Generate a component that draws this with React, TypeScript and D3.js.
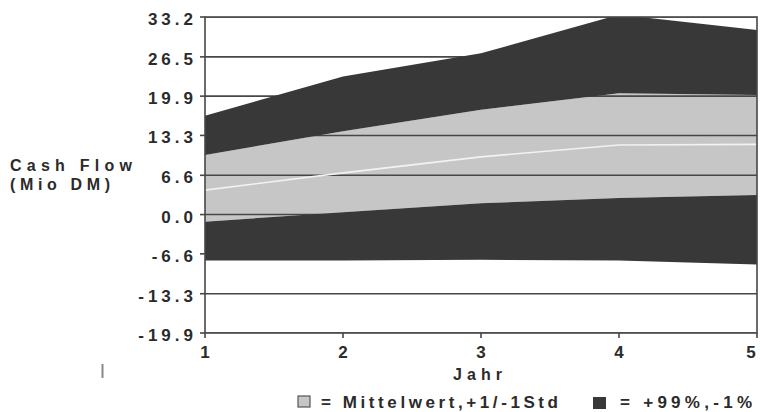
import React from "react";
import * as d3 from "d3";

const years = [1, 2, 3, 4, 5];
const p99 = [16.6, 23.2, 27.1, 33.6, 31.0];
const plus1Std = [10.0, 14.0, 17.6, 20.4, 20.1];
const mean = [4.1, 7.0, 9.7, 11.7, 11.8];
const minus1Std = [-1.2, 0.4, 1.9, 2.8, 3.3];
const p1 = [-7.7, -7.7, -7.6, -7.7, -8.4];
const yTicks = [33.2, 26.5, 19.9, 13.3, 6.6, 0.0, -6.6, -13.3, -19.9];
const yTickLabels = ["33.2", "26.5", "19.9", "13.3", "6.6", "0.0", "-6.6", "-13.3", "-19.9"];
const xTickLabels = ["1", "2", "3", "4", "5"];
const legendLabels = ["= Mittelwert,+1/-1Std", "= +99%,-1%"];

const W = 760;
const H = 412;
const L = 205, R = 757, T = 17, B = 333;
const DARK = "#383838";
const LIGHT = "#c6c6c6";
const GRID = "#474747";
const TXT = "#2b2b2b";
const FONT = "'Liberation Sans', Arial, sans-serif";

export default function App() {
  const x = d3.scaleLinear().domain([1, 5]).range([L, R]);
  const y = d3.scaleLinear().domain([-19.9, 33.2]).range([B, T]);
  const idx = years.map((_, i) => i);

  const band = (lo: number[], hi: number[]) =>
    d3
      .area<number>()
      .x((i) => x(years[i]))
      .y0((i) => y(lo[i]))
      .y1((i) => y(hi[i]))(idx) || "";

  const meanLine =
    d3
      .line<number>()
      .x((i) => x(years[i]))
      .y((i) => y(mean[i]))(idx) || "";

  const ls = 4;
  const tickFont = { fontFamily: FONT, fontWeight: 700, fontSize: 17, letterSpacing: ls, fill: TXT } as const;
  const plainFont = { fontFamily: FONT, fontWeight: 700, fontSize: 16, fill: TXT } as const;
  const legendFont = { fontFamily: FONT, fontWeight: 700, fontSize: 17, fill: TXT } as const;

  return (
    <svg
      width={W}
      height={H}
      style={{ position: "absolute", left: 0, top: 0, background: "#fff" }}
    >
      <defs>
        <clipPath id="plot">
          <rect x={L} y={T} width={R - L} height={B - T} />
        </clipPath>
      </defs>
      <rect x={0} y={0} width={W} height={H} fill="#fff" />
      <g clipPath="url(#plot)">
        <path d={band(minus1Std, plus1Std)} fill={LIGHT} />
        {yTicks.map((t, i) => (
          <line key={i} x1={L} x2={R} y1={y(t)} y2={y(t)} stroke={GRID} strokeWidth={1.6} />
        ))}
        <path d={meanLine} fill="none" stroke="#f2f2f2" strokeWidth={1.6} />
        <path d={band(plus1Std, p99)} fill={DARK} />
        <path d={band(p1, minus1Std)} fill={DARK} />
      </g>
      {/* frame */}
      <rect x={L} y={T} width={R - L} height={B - T} fill="none" stroke={GRID} strokeWidth={1.6} />
      {/* y ticks */}
      {yTicks.map((t, i) => (
        <g key={i}>
          <line x1={L - 5} x2={L} y1={y(t)} y2={y(t)} stroke={GRID} strokeWidth={1.6} />
          <text x={193 + ls} y={y(t) + 8} textAnchor="end" style={tickFont}>
            {yTickLabels[i]}
          </text>
        </g>
      ))}
      {/* x ticks */}
      {years.map((yr, i) => (
        <g key={i}>
          <line x1={x(yr)} x2={x(yr)} y1={B} y2={B + 5} stroke={GRID} strokeWidth={1.6} />
          <text
            x={Math.min(x(yr), 751) + ls / 2}
            y={358}
            textAnchor="middle"
            style={tickFont}
          >
            {xTickLabels[i]}
          </text>
        </g>
      ))}
      <text x={453} y={380} textLength={49} lengthAdjust="spacing" style={plainFont}>
        Jahr
      </text>
      <text x={10} y={171} textLength={122} lengthAdjust="spacing" style={plainFont}>
        Cash Flow
      </text>
      <text x={10} y={190} textLength={100} lengthAdjust="spacing" style={plainFont}>
        (Mio DM)
      </text>
      <line x1={102.5} x2={102.5} y1={364} y2={378} stroke="#888" strokeWidth={2} />
      {/* legend */}
      <rect x={298} y={396} width={12} height={11} fill={LIGHT} stroke="#555" strokeWidth={1.2} />
      <text x={321} y={408} textLength={237} lengthAdjust="spacing" style={legendFont}>
        {legendLabels[0]}
      </text>
      <rect x={593} y={397} width={13} height={12} fill={DARK} />
      <text x={620} y={408} textLength={132} lengthAdjust="spacing" style={legendFont}>
        {legendLabels[1]}
      </text>
    </svg>
  );
}
